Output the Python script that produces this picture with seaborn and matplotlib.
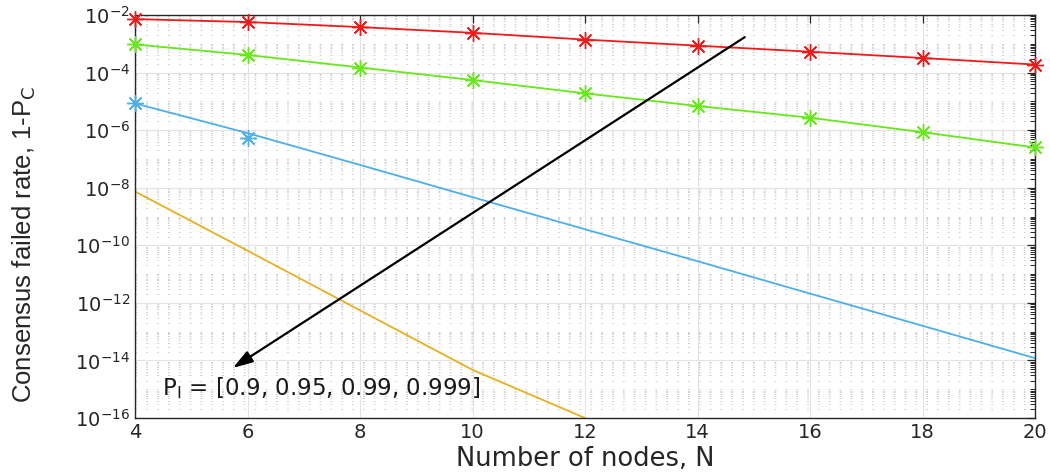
import numpy as np
import pandas as pd
import matplotlib
matplotlib.use('Agg')
import matplotlib.pyplot as plt
import matplotlib.ticker as mticker
import seaborn as sns

# number of nodes
nodes = [4, 6, 8, 10, 12, 14, 16, 18, 20]

# analytical curves, one per P_I
fail_090 = [7.2e-3, 5.7e-3, 3.8e-3, 2.4e-3, 1.4e-3, 8.6e-4, 5.3e-4, 3.2e-4, 1.9e-4]
fail_095 = [9.5e-4, 4.1e-4, 1.5e-4, 5.5e-5, 1.9e-5, 6.9e-6, 2.7e-6, 8.5e-7, 2.5e-7]
fail_099 = [8.5e-6, 7.9e-7, 6.2e-8, 4.7e-9, 3.6e-10, 2.8e-11, 2.1e-12, 1.6e-13, 1.2e-14]
fail_0999 = [7.4e-9, 6.5e-11, 5.5e-13, 4.7e-15, 1.0e-16, np.nan, np.nan, np.nan, np.nan]

# simulated points (markers)
sim_nodes_099 = [4, 6]
sim_099 = [8.5e-6, 5.3e-7]

yticks = [1e-16, 1e-14, 1e-12, 1e-10, 1e-8, 1e-6, 1e-4, 1e-2]
xticks = [4, 6, 8, 10, 12, 14, 16, 18, 20]

sns.set_style('white')
plt.rcParams['font.family'] = ['DejaVu Sans']
plt.rcParams['mathtext.fontset'] = 'dejavusans'

fig = plt.figure(figsize=(10.5, 4.72), dpi=100)
ax = fig.add_axes([135 / 1050, 1 - 418 / 472, 900 / 1050, 403 / 472])

df = pd.DataFrame({'N': nodes, 'r': fail_090, 'g': fail_095, 'b': fail_099, 'y': fail_0999})

red = '#F01A1A'
green = '#66E819'
blue = '#4DAFEA'
yellow = '#E8B020'
star = (8, 2, 0)

sns.lineplot(data=df, x='N', y='r', ax=ax, color=red, lw=1.3)
sns.lineplot(data=df, x='N', y='g', ax=ax, color=green, lw=1.3)
sns.lineplot(data=df, x='N', y='b', ax=ax, color=blue, lw=1.3)
sns.lineplot(data=df.dropna(), x='N', y='y', ax=ax, color=yellow, lw=1.3)
# star markers drawn unclipped like matlab
for xs, ys, c in [(nodes, fail_090, red), (nodes, fail_095, green), (sim_nodes_099, sim_099, blue)]:
    ax.plot(xs, ys, ls='none', marker=star, markersize=12, markeredgewidth=1.0,
            color=c, clip_on=False, zorder=4)

ax.set_yscale('log')
ax.set_xlim(4, 20)
ax.set_ylim(1e-16, 1e-2)
ax.set_xticks(xticks)
ax.set_yticks(yticks)
minor = [k * 10.0 ** e for e in range(-16, -2) for k in range(1, 10)
         if not (k == 1 and e % 2 == 0)]
ax.yaxis.set_minor_locator(mticker.FixedLocator(minor))
ax.yaxis.set_minor_formatter(mticker.NullFormatter())
ax.yaxis.set_major_formatter(mticker.FuncFormatter(lambda v, p: r'$10^{%d}$' % round(np.log10(v))))

ax.grid(True, which='major', axis='both', color='#E3E3E3', lw=0.8)
ax.grid(True, which='minor', axis='y', color='#C4C4C4', lw=0.6, ls=(0, (2, 11)))
ax.set_axisbelow(True)

ax.tick_params(which='both', direction='in', top=True, right=True, labelsize=14, colors='#262626')
ax.tick_params(which='major', length=6, width=0.9)
ax.tick_params(which='minor', length=3.5, width=0.7)
for s in ax.spines.values():
    s.set_color('#262626')
    s.set_linewidth(1.0)
    s.set_visible(True)

ax.set_xlabel('Number of nodes, N', fontsize=18.5, labelpad=3, color='#262626')
ax.set_ylabel('Consensus failed rate, 1-P$_\\mathrm{C}$', fontsize=18.5,
              family='Liberation Sans', color='#262626')
ax.yaxis.set_label_coords(-0.108, 0.43)

ax.annotate('', xy=(5.74, 5.5e-15), xytext=(14.84, 1.7e-3),
            arrowprops=dict(arrowstyle='-|>,head_length=1.2,head_width=0.38',
                            color='black', lw=1.6, shrinkA=0, shrinkB=0))
ax.text(4.48, 10 ** -14.95, 'P$_\\mathrm{I}$ = [0.9, 0.95, 0.99, 0.999]', fontsize=16.5,
        ha='left', va='center', color='#1a1a1a')

fig.savefig('out.png', dpi=100)
